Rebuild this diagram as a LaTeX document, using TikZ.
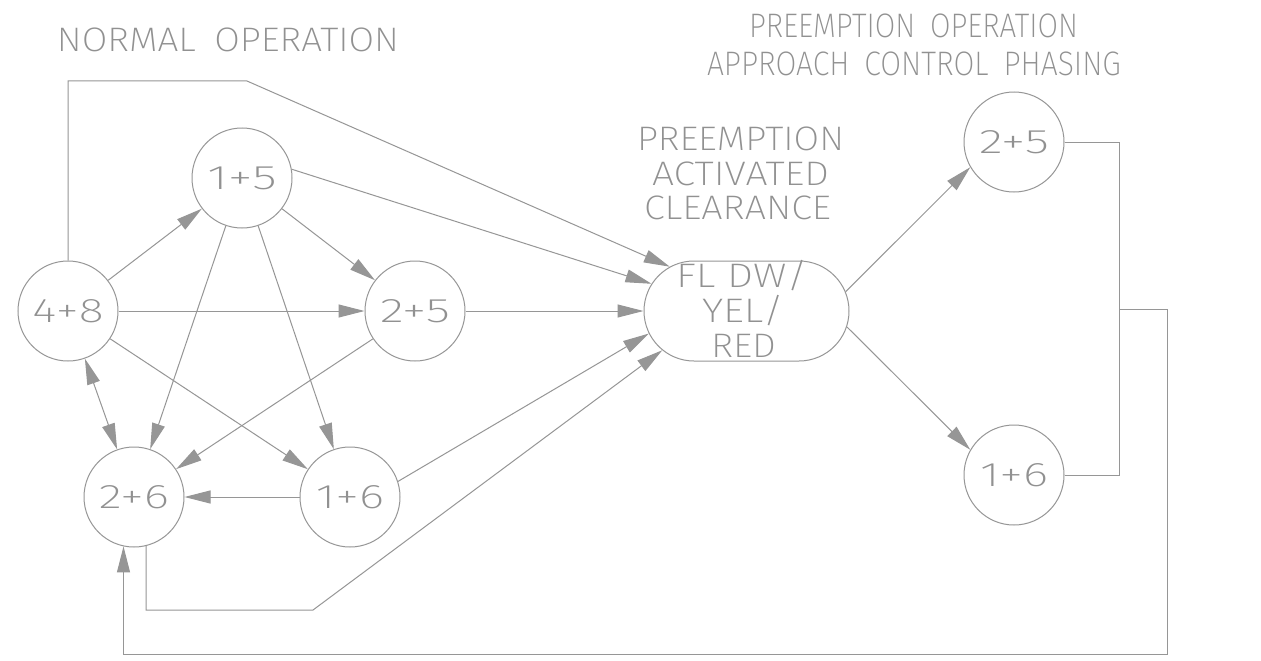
\documentclass[tikz,border=0pt]{standalone}
\usepackage{fontspec}
\usepackage{graphicx}
\usetikzlibrary{arrows.meta,shapes.misc}
\newfontfamily\cadfont{Fira Sans ExtraLight}
% scale a text box to a given width, keeping its height
\newcommand\fitw[2]{\resizebox{#1pt}{\height}{#2}}
\definecolor{wire}{RGB}{150,150,150}
\definecolor{ink}{RGB}{145,145,145}
\tikzset{
  wire/.style={draw=wire, line width=1pt},
  arr/.style={wire, -{Triangle[length=26pt,width=13pt]}},
  darr/.style={wire, {Triangle[length=26pt,width=13pt]}-{Triangle[length=26pt,width=13pt]}},
  cadtext/.style={font=\cadfont\fontsize{34}{36}\selectfont, text=ink},
  state/.style={circle, wire, minimum size=100pt, inner sep=0pt, cadtext},
  caption/.style={inner sep=0pt, anchor=base, cadtext},
}
\begin{document}
\begin{tikzpicture}[x=1pt, y=-1pt]
\fill[white] (0,0) rectangle (1261,661);
\useasboundingbox (0,0) rectangle (1261,661);

% headings
\node[caption] (hNormal) at (228,52) {\fitw{342}{NORMAL\hspace{0.5em}OPERATION}};
\node[caption] (hPreA) at (913.5,38) {\fitw{329}{PREEMPTION\hspace{0.5em}OPERATION}};
\node[caption] (hPreB) at (914,75) {\fitw{414}{APPROACH\hspace{0.5em}CONTROL\hspace{0.5em}PHASING}};
\node[caption] (hClrA) at (740.5,150) {\fitw{207}{PREEMPTION}};
\node[caption] (hClrB) at (740.5,185) {\fitw{177}{ACTIVATED}};
\node[caption] (hClrC) at (737.5,219) {\fitw{187}{CLEARANCE}};

% phase states
\node[state] (n48) at (68,311) {\fitw{71}{4+8}};
\node[state] (n15) at (242,178) {\fitw{69}{1+5}};
\node[state] (n25) at (415,311) {\fitw{70}{2+5}};
\node[state] (n26) at (134,497) {\fitw{70}{2+6}};
\node[state] (n16) at (350,497) {\fitw{68}{1+6}};
\node[state] (n25r) at (1014,142) {\fitw{70}{2+5}};
\node[state] (n16r) at (1014,475) {\fitw{68}{1+6}};

% clearance interval
\node[rounded rectangle, wire, minimum width=205pt, minimum height=100pt, inner sep=0pt] (clr) at (746.5,311) {};
\node[caption] (clrA) at (742,287) {\fitw{132}{FL DW/}};
\node[caption] (clrB) at (743,322) {\fitw{82}{YEL/}};
\node[caption] (clrC) at (743.5,357) {\fitw{65}{RED}};

% routing points
\coordinate (c1) at (247,81);
\coordinate (c2) at (313,610);
\coordinate (c3) at (1119,309);
\coordinate (c4) at (1167,654);

% normal operation transitions
\draw[arr] (n48) -- (n15);
\draw[arr] (n48) -- (n25);
\draw[arr] (n48) -- (n16);
\draw[darr] (n48) -- (n26);
\draw[arr] (n15) -- (n25);
\draw[arr] (n15) -- (n26);
\draw[arr] (n15) -- (n16);
\draw[arr] (n25) -- (n26);
\draw[arr] (n16) -- (n26);

% into preemption clearance
\draw[arr] (n48.north) |- (c1) -- (clr.150);
\draw[arr] (n15.10) -- (clr.164.5);
\draw[arr] (n25) -- (clr);
\draw[arr] (n16.18) -- (clr.193.4);
\draw[arr] (n26.-76) |- (c2) -- (clr.205.6);

% approach control phasing
\draw[arr] (clr.11) -- (n25r.210);
\draw[arr] (clr.-9) -- (n16r.150);
\draw[wire] (n25r.east) -| (c3) |- (n16r.east);
\draw[arr] (c3) -| (c4) -| (n26.-102.7);
\end{tikzpicture}
\end{document}
